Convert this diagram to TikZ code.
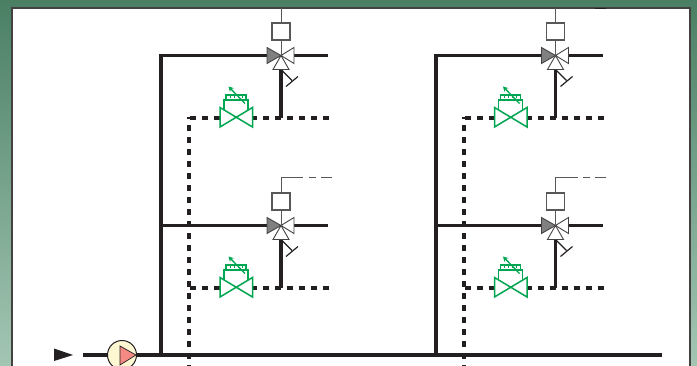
\documentclass[tikz,border=0pt]{standalone}
\usetikzlibrary{calc,arrows.meta}
\definecolor{pipe}{HTML}{231F20}
\definecolor{vgreen}{HTML}{00A651}
\definecolor{bgtop}{HTML}{4A7F64}
\definecolor{bgbot}{HTML}{A3C6B3}
\definecolor{pumpfill}{HTML}{FDF7D2}
\definecolor{pumptri}{HTML}{F58A84}
\tikzset{
  pipeline/.style={draw=pipe,line width=3.2pt},
  returnline/.style={draw=pipe,line width=3.2pt,dash pattern=on 6pt off 6pt},
  signal/.style={draw=pipe!75,line width=0.8pt},
  valvepart/.style={draw=pipe!85,line width=0.9pt,fill=white,line join=miter},
  greenpart/.style={draw=vgreen,line width=1.5pt,line join=miter},
}
\newcommand{\mixunit}[2]{%
\begin{scope}[shift={(#1,#2)}]
  \draw[returnline] (-91,62.5) -- (-61,62.5);
  \draw[returnline] (-30,62.5) -- (48,62.5);
  \draw[pipeline] (13,0) -- (47,0);
  \draw[pipeline] (0,14) -- (0,62.5);
  % valve
  \filldraw[valvepart,fill=black!50] (0,0) -- (-14,-8) -- (-14,8) -- cycle;
  \filldraw[valvepart] (0,0) -- (13,-8) -- (13,8) -- cycle;
  \filldraw[valvepart] (0,0) -- (-8,14) -- (8,14) -- cycle;
  \draw[signal] (0,0) -- (0,-15);
  % hand wheel
  \draw[draw=pipe,line width=1.2pt] (1,15) -- (11,25);
  \draw[draw=pipe,line width=1.2pt] (17,21) -- (5,31);
  % actuator
  \filldraw[draw=pipe!75,fill=white,line width=1.1pt] (-9,-32.5) rectangle (9,-15.5);
  % green valve
  \filldraw[greenpart,fill=white] (-61,52) -- (-28.5,71.5) -- (-28.5,52) -- (-61,71.5) -- cycle;
  \draw[greenpart] (-57,54.5) -- (-57,44.5) -- (-33,44.5) -- (-33,54.5);
  \filldraw[greenpart,fill=white] (-55,39.5) rectangle (-35,44.5);
  \foreach \t in {-51,-47,-43,-39} \draw[vgreen,line width=0.8pt] (\t,39.5) -- (\t,42);
  \draw[draw=vgreen,line width=1.3pt,-{Stealth[length=5pt,width=5.5pt]}] (-36,48) -- (-52.5,31);
\end{scope}}
\begin{document}
\begin{tikzpicture}[x=1pt,y=-1pt]
\useasboundingbox (0,0) rectangle (697,365);
\clip (0,0) rectangle (697,365);
\shade[top color=bgtop,bottom color=bgbot] (0,0) rectangle (697,365);
\filldraw[draw=pipe!85,fill=white,line width=1.2pt] (12,8) rectangle (690,375);
% headers
\draw[pipeline] (161,355) -- (161,55.5) -- (267,55.5);
\draw[pipeline] (161,225.5) -- (267,225.5);
\draw[pipeline] (436,355) -- (436,55.5) -- (541,55.5);
\draw[pipeline] (436,225.5) -- (541,225.5);
% return risers
\draw[returnline] (189,371) -- (189,116.5);
\draw[returnline] (464,371) -- (464,116.5);
% units
\mixunit{281}{55.5}
\mixunit{281}{225.5}
\mixunit{555.5}{55.5}
\mixunit{555.5}{225.5}
% signal lines
\draw[signal] (281,8) -- (281,23);
\draw[signal] (555.5,8) -- (555.5,23);
\draw[draw=pipe,line width=1pt] (595,8) -- (606,8);
\draw[signal] (281,193) -- (281,177.5) -- (303,177.5);
\draw[signal] (309,177.5) -- (316,177.5) (321,177.5) -- (332,177.5);
\draw[signal] (555.5,193) -- (555.5,177.5) -- (577.5,177.5);
\draw[signal] (583,177.5) -- (590,177.5) (595,177.5) -- (606,177.5);
% main
\draw[pipeline] (83,355) -- (662,355);
\node[circle,draw=pipe,line width=1pt,fill=pumpfill,minimum size=29pt,inner sep=0pt] (pump) at (122,355) {};
\filldraw[draw=pipe,fill=pumptri,line width=0.7pt] (120,346) -- (136,355) -- (120,365) -- cycle;
\fill[pipe] (54,348.5) -- (73,355) -- (54,361) -- cycle;
\end{tikzpicture}
\end{document}
